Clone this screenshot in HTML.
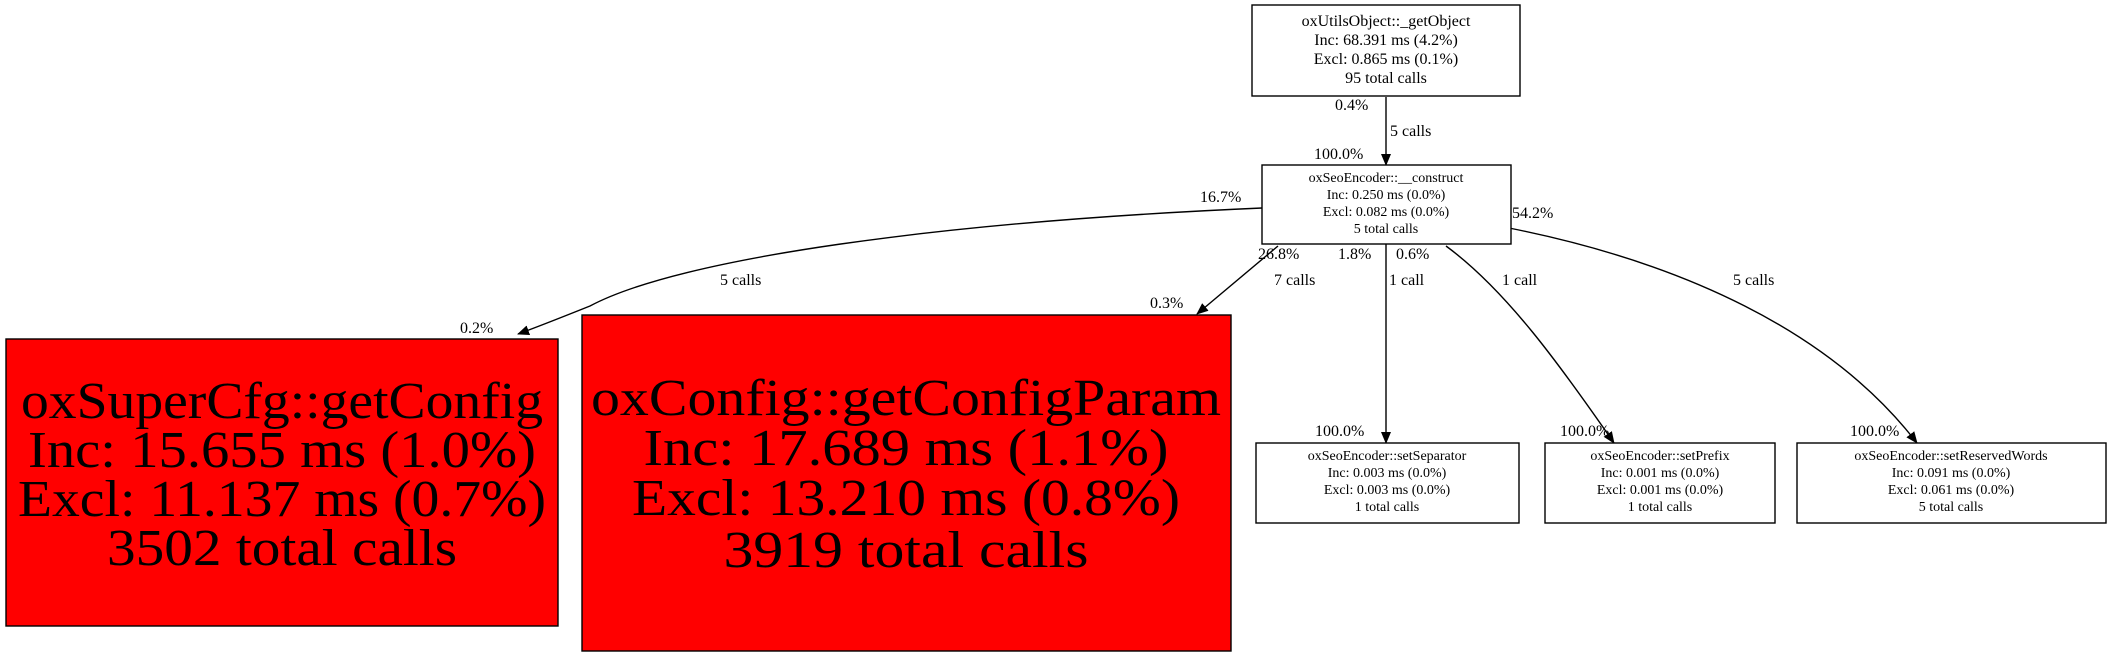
<!DOCTYPE html>
<html><head><meta charset="utf-8"><style>
html,body{margin:0;padding:0;background:#fff;width:2109px;height:656px;overflow:hidden}
svg{display:block}
text{font-family:"Liberation Serif",serif;fill:#000}
</style></head><body>
<svg width="2109" height="656" viewBox="0 0 2109 656" xmlns="http://www.w3.org/2000/svg">
<defs><marker id="a" markerWidth="12" markerHeight="10" refX="11" refY="5" orient="auto" markerUnits="userSpaceOnUse"><path d="M0,0 L12,5 L0,10 z" fill="#000"/></marker></defs>
<g fill="none" stroke="#000" stroke-width="1.4">
<path d="M1386,97 L1386,165" marker-end="url(#a)"/>
<path d="M1262,208 C940,222 680,258 590,306 C560,318 540,326 518,334" marker-end="url(#a)"/>
<path d="M1278,246 L1197,314" marker-end="url(#a)"/>
<path d="M1386,244 L1386,443" marker-end="url(#a)"/>
<path d="M1446,246 C1506,290 1560,365 1614,443" marker-end="url(#a)"/>
<path d="M1509,228 C1680,262 1830,330 1917,443" marker-end="url(#a)"/>
</g>
<g stroke="#000" stroke-width="1.4" fill="#fff">
<rect x="1252" y="5" width="268" height="91"/>
<rect x="1262" y="165" width="249" height="79"/>
<rect x="1256" y="443" width="263" height="80"/>
<rect x="1545" y="443" width="230" height="80"/>
<rect x="1797" y="443" width="309" height="80"/>
<rect x="6" y="339" width="552" height="287" fill="#f00"/>
<rect x="582" y="315" width="649" height="336" fill="#f00"/>
</g>
<g font-size="16" text-anchor="middle">
<text x="1386" y="26">oxUtilsObject::_getObject</text>
<text x="1386" y="45">Inc: 68.391 ms (4.2%)</text>
<text x="1386" y="64">Excl: 0.865 ms (0.1%)</text>
<text x="1386" y="83">95 total calls</text>
</g>
<g font-size="14" text-anchor="middle">
<text x="1386" y="182">oxSeoEncoder::__construct</text>
<text x="1386" y="199">Inc: 0.250 ms (0.0%)</text>
<text x="1386" y="216">Excl: 0.082 ms (0.0%)</text>
<text x="1386" y="233">5 total calls</text>
<text x="1387" y="460">oxSeoEncoder::setSeparator</text>
<text x="1387" y="477">Inc: 0.003 ms (0.0%)</text>
<text x="1387" y="494">Excl: 0.003 ms (0.0%)</text>
<text x="1387" y="511">1 total calls</text>
<text x="1660" y="460">oxSeoEncoder::setPrefix</text>
<text x="1660" y="477">Inc: 0.001 ms (0.0%)</text>
<text x="1660" y="494">Excl: 0.001 ms (0.0%)</text>
<text x="1660" y="511">1 total calls</text>
<text x="1951" y="460">oxSeoEncoder::setReservedWords</text>
<text x="1951" y="477">Inc: 0.091 ms (0.0%)</text>
<text x="1951" y="494">Excl: 0.061 ms (0.0%)</text>
<text x="1951" y="511">5 total calls</text>
</g>
<g font-size="52" text-anchor="middle">
<text x="282" y="418" textLength="522" lengthAdjust="spacingAndGlyphs">oxSuperCfg::getConfig</text>
<text x="282" y="467" textLength="508" lengthAdjust="spacingAndGlyphs">Inc: 15.655 ms (1.0%)</text>
<text x="282" y="516" textLength="528" lengthAdjust="spacingAndGlyphs">Excl: 11.137 ms (0.7%)</text>
<text x="282" y="565" textLength="350" lengthAdjust="spacingAndGlyphs">3502 total calls</text>
<text x="906" y="415" textLength="630" lengthAdjust="spacingAndGlyphs">oxConfig::getConfigParam</text>
<text x="906" y="465" textLength="525" lengthAdjust="spacingAndGlyphs">Inc: 17.689 ms (1.1%)</text>
<text x="906" y="515" textLength="548" lengthAdjust="spacingAndGlyphs">Excl: 13.210 ms (0.8%)</text>
<text x="906" y="567" textLength="365" lengthAdjust="spacingAndGlyphs">3919 total calls</text>
</g>
<g font-size="16">
<text x="1335" y="110">0.4%</text>
<text x="1390" y="136">5 calls</text>
<text x="1314" y="159">100.0%</text>
<text x="1200" y="202">16.7%</text>
<text x="1512" y="218">54.2%</text>
<text x="720" y="285">5 calls</text>
<text x="460" y="333">0.2%</text>
<text x="1258" y="259">26.8%</text>
<text x="1338" y="259">1.8%</text>
<text x="1396" y="259">0.6%</text>
<text x="1274" y="285">7 calls</text>
<text x="1150" y="308">0.3%</text>
<text x="1389" y="285">1 call</text>
<text x="1502" y="285">1 call</text>
<text x="1733" y="285">5 calls</text>
<text x="1315" y="436">100.0%</text>
<text x="1560" y="436">100.0%</text>
<text x="1850" y="436">100.0%</text>
</g>
</svg>
</body></html>
